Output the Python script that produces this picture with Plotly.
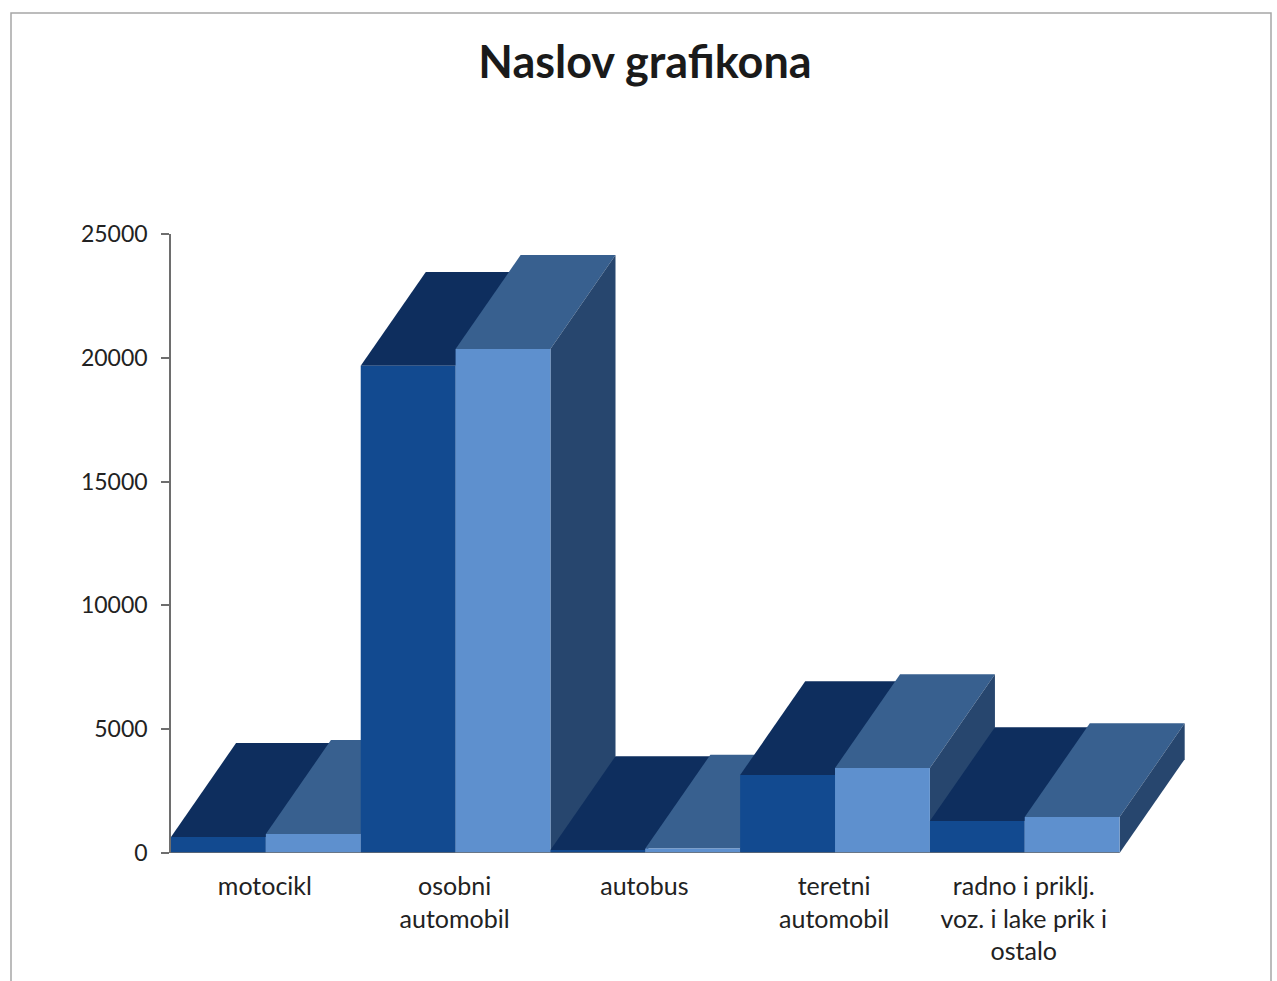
import plotly.graph_objects as go

categories = ["motocikl", "osobni<br>automobil", "autobus", "teretni<br>automobil",
              "radno i priklj.<br>voz. i lake prik i<br>ostalo"]
series_a = [650, 19680, 120, 3150, 1290]
series_b = [770, 20360, 180, 3430, 1450]
y_ticks = [0, 5000, 10000, 15000, 20000, 25000]

DEPTH_X = 0.343
DEPTH_Y = 3790
BAR_W = 0.5

FRONT = ["#124A90", "#5E90CE"]
TOP = ["#0E2E5E", "#38608F"]
SIDE = ["#0D3363", "#27466E"]

W, H = 1277, 981
L, R, T, B = 171, 1186, 234, 853


def face(xs, ys, color):
    return go.Scatter(x=xs, y=ys, mode="lines", fill="toself", fillcolor=color,
                      line=dict(width=0, color=color), showlegend=False,
                      hoverinfo="skip", cliponaxis=False)


traces = []
for i in range(len(categories)):
    for s, vals in enumerate((series_a, series_b)):
        v = vals[i]
        x0 = i + s * BAR_W
        x1 = x0 + BAR_W
        traces.append(face([x0, x1, x1 + DEPTH_X, x0 + DEPTH_X, x0],
                           [v, v, v + DEPTH_Y, v + DEPTH_Y, v], TOP[s]))
        traces.append(face([x1, x1 + DEPTH_X, x1 + DEPTH_X, x1, x1],
                           [0, DEPTH_Y, v + DEPTH_Y, v, 0], SIDE[s]))
        traces.append(face([x0, x1, x1, x0, x0], [0, 0, v, v, 0], FRONT[s]))

# baseline beneath the bars
traces.append(go.Scatter(x=[0, len(categories)], y=[0, 0], mode="lines",
                         line=dict(color="#6E6E6E", width=1.5), showlegend=False,
                         hoverinfo="skip", cliponaxis=False))

fig = go.Figure(traces)

pw, ph = R - L, B - T
border = dict(type="path", xref="paper", yref="paper",
              path=f"M {(11-L)/pw} {(B-981)/ph} L {(11-L)/pw} {(B-13)/ph} "
                   f"L {(1271-L)/pw} {(B-13)/ph} L {(1271-L)/pw} {(B-981)/ph}",
              line=dict(color="#A6A6A6", width=1.5), layer="below")

fig.update_layout(
    width=W, height=H, autosize=False,
    margin=dict(l=L, r=W - R, t=T, b=H - B, pad=0),
    paper_bgcolor="white", plot_bgcolor="white",
    title=dict(text="<b>Naslov grafikona</b>", x=645 / W, xanchor="center",
               y=1 - 62 / H, yanchor="middle",
               font=dict(family="Lato", size=45, color="#1A1A1A")),
    font=dict(family="Lato", size=24, color="#222222"),
    shapes=[border],
    xaxis=dict(range=[0, 5.35], tickmode="array",
               tickvals=[i + 0.495 for i in range(len(categories))],
               ticktext=categories, ticks="", showgrid=False, zeroline=False,
               showline=False, ticklabelstandoff=16, tickangle=0,
               tickfont=dict(family="Lato", size=25, color="#222222")),
    yaxis=dict(range=[0, 25000], tickmode="array", tickvals=y_ticks,
               ticktext=[str(t) for t in y_ticks], ticks="outside", ticklen=8,
               tickcolor="#6E6E6E", tickwidth=1.5, showline=True,
               linecolor="#6E6E6E", linewidth=1.5, showgrid=False, zeroline=False,
               ticklabelstandoff=9,
               tickfont=dict(family="Lato", size=23, color="#222222")),
)

fig.write_html("out.html", config={"displayModeBar": False},
               post_script="document.body.style.margin='0';document.body.style.overflow='hidden';")
